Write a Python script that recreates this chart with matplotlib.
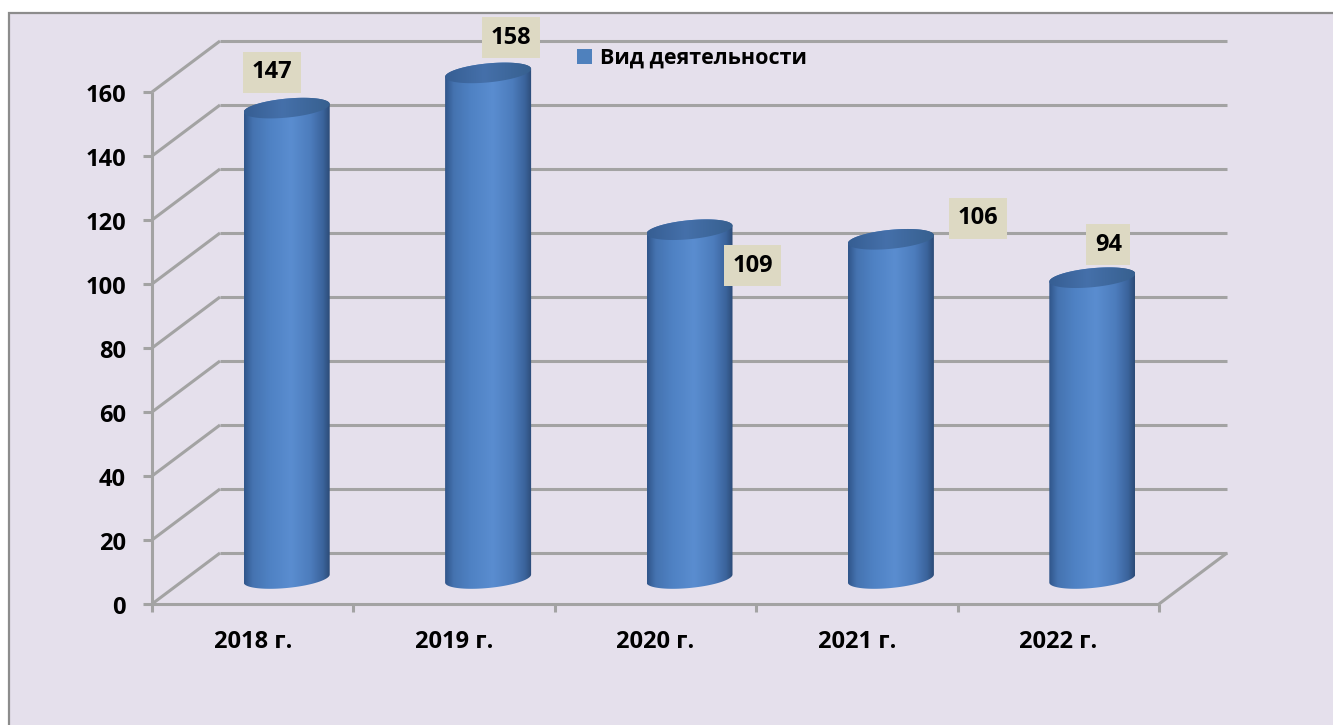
import numpy as np
import matplotlib
matplotlib.use('Agg')
import matplotlib.pyplot as plt
from matplotlib.patches import Rectangle, Polygon
from matplotlib.colors import LinearSegmentedColormap

# ---------------- data ----------------
categories = ['2018 г.', '2019 г.', '2020 г.', '2021 г.', '2022 г.']
values = [147, 158, 109, 106, 94]
y_ticks = [0, 20, 40, 60, 80, 100, 120, 140, 160]
series_name = 'Вид деятельности'

# ---------------- layout constants ----------------
W, H = 1333, 725
x0_px, y0_px = 152, 604        # front-left-bottom corner of plot in pixels
cat_px = 201.4                  # pixels per category
val_px = 3.2                    # pixels per value unit
# label offsets from cylinder top centre (pixels, +x right, +y down)
label_offsets_px = [(-15, -36), (23, -35), (63, 36), (87, -21), (16, -33)]

FONT = ['Open Sans', 'Noto Sans', 'DejaVu Sans']
plt.rcParams['font.family'] = FONT
FS = 17

fig = plt.figure(figsize=(W / 100, H / 100), dpi=100)
fig.patch.set_facecolor('white')
ax = fig.add_axes([0, 0, 1, 1])
ax.axis('off')
ax.set_xlim(-x0_px / cat_px, (W - x0_px) / cat_px)
ax.set_ylim((y0_px - H) / val_px, y0_px / val_px)


def px_x(p):
    return p / cat_px


def px_y(p):
    return p / val_px


DX = px_x(68)
DY = px_y(51)
n = len(categories)
ymax = y_ticks[-1]

# chart area background with border
ax.add_patch(Rectangle((9 / W, -0.3), 2, 1 - 13 / H + 0.3, transform=ax.transAxes,
                       fc='#E5E0EC', ec='#8C8C8C', lw=1.6, zorder=0))

grid_kw = dict(color='#A3A3A3', lw=2.2, solid_capstyle='butt', zorder=1)
for v in y_ticks:
    ax.plot([DX, n + DX], [v + DY, v + DY], **grid_kw)
    ax.plot([0, DX], [v, v + DY], **grid_kw)
    ax.plot([-px_x(9), 0], [v, v], **grid_kw)
    ax.text(px_x(126 - 152), v - px_y(10), str(v), ha='right', va='baseline',
            fontsize=FS, fontweight='bold', color='black', zorder=5)

ax.plot([0, 0], [0, ymax], **grid_kw)
ax.plot([0, n], [0, 0], **grid_kw)
ax.plot([n, n + DX], [0, DY], **grid_kw)
for i in range(n + 1):
    ax.plot([i, i], [0, -px_y(8)], **grid_kw)

for i, c in enumerate(categories):
    ax.text(i + 0.5, -px_y(44), c, ha='center', va='baseline',
            fontsize=FS, fontweight='bold', color='black', zorder=5)

# cylinders
body_cmap = LinearSegmentedColormap.from_list('body', [
    (0.0, '#30558A'), (0.10, '#4573B0'), (0.30, '#4F82C4'), (0.55, '#5A8DD0'),
    (0.78, '#4C7CBC'), (0.92, '#3B649C'), (1.0, '#2C4B77')])
top_cmap = LinearSegmentedColormap.from_list('top', [
    (0.0, '#365E93'), (0.45, '#4570AA'), (1.0, '#37608F')])

a = px_x(43)
b = px_y(9.5)
s = px_y(4)
base = DY / 2
grad = np.linspace(0, 1, 256).reshape(1, -1)

for i, v in enumerate(values):
    cx = i + 0.5 + DX / 2
    top = v + DY / 2
    t1 = np.linspace(np.pi, 2 * np.pi, 80)
    t2 = np.linspace(0, np.pi, 80)
    xs = np.concatenate([cx + a * np.cos(t1), cx + a * np.cos(t2)])
    ys = np.concatenate([base + b * np.sin(t1) + s * np.cos(t1),
                         top + b * np.sin(t2) + s * np.cos(t2)])
    body = Polygon(np.column_stack([xs, ys]), closed=True, fc='none', ec='none', zorder=3)
    ax.add_patch(body)
    im = ax.imshow(grad, cmap=body_cmap, aspect='auto', interpolation='bilinear',
                   extent=[cx - a, cx + a, base - b - s, top + b + s], zorder=3)
    im.set_clip_path(body)

    t = np.linspace(0, 2 * np.pi, 160)
    tx = cx + a * np.cos(t)
    ty = top + b * np.sin(t) + s * np.cos(t)
    cap = Polygon(np.column_stack([tx, ty]), closed=True, fc='none', ec='none', zorder=4)
    ax.add_patch(cap)
    im2 = ax.imshow(grad, cmap=top_cmap, aspect='auto', interpolation='bilinear',
                    extent=[cx - a, cx + a, top - b - s, top + b + s], zorder=4)
    im2.set_clip_path(cap)

    ox, oy = label_offsets_px[i]
    ax.text(cx + px_x(ox), top - px_y(oy), str(v), ha='center', va='center',
            fontsize=FS, fontweight='bold', color='black', zorder=6,
            bbox=dict(boxstyle='square,pad=0.36', fc='#DDD9C3', ec='none'))

# legend
ax.add_patch(Rectangle((px_x(577 - 152), px_y(y0_px - 64)), px_x(15), px_y(15),
                       fc='#4F81BD', ec='none', zorder=5))
ax.text(px_x(600 - 152), px_y(y0_px - 63.5), series_name, ha='left', va='baseline',
        fontsize=15.5, fontweight='bold', color='black', zorder=5)

ax.set_xlim(-x0_px / cat_px, (W - x0_px) / cat_px)
ax.set_ylim((y0_px - H) / val_px, y0_px / val_px)
fig.savefig('out.png', dpi=100, facecolor='white')
